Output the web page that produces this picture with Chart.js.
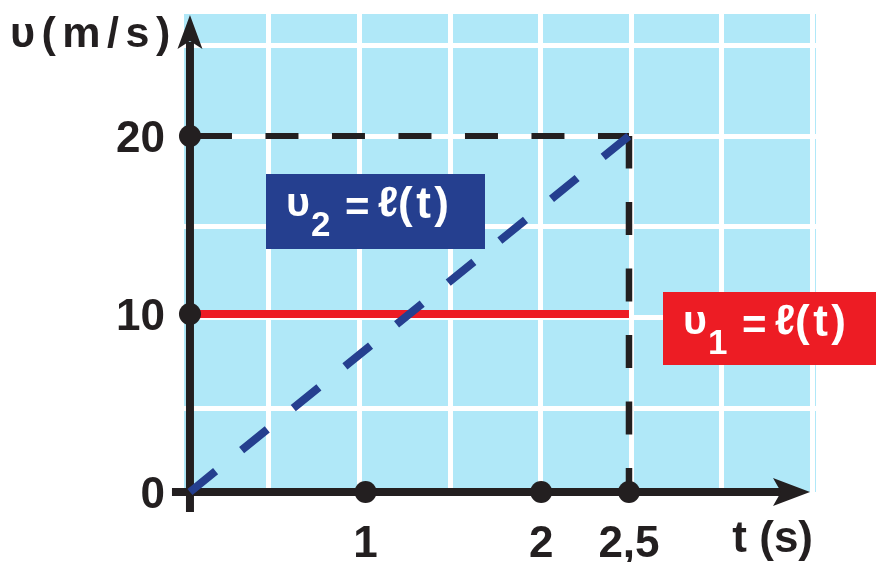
<!DOCTYPE html>
<html><head><meta charset="utf-8">
<script src="https://cdn.jsdelivr.net/npm/chart.js@4/dist/chart.umd.min.js"></script>
<style>html,body{margin:0;padding:0;background:#fff;}canvas{display:block}</style>
</head><body>
<canvas id="c" width="876" height="562"></canvas>
<script>
// ---- data ----
const xTicks = [1, 2, 2.5];
const yTicks = [0, 10, 20];
const v1Times = [0, 2.5];
const v1Values = [10, 10];
const v2Times = [0, 2.5];
const v2Values = [0, 20];
const guideHTimes = [0, 2.5];
const guideHValues = [20, 20];
const guideVTimes = [2.5, 2.5];
const guideVValues = [0, 20];
const markTimes = [0, 0, 1, 2, 2.5];
const markValues = [20, 10, 0, 0, 0];
const gridCols = [0, 1, 2, 3, 4, 5, 6];
const gridRows = [0, 1, 2, 3, 4];
const xTitle = 't (s)';
const yTitle = 'υ(m/s)';
const label1 = ['υ', '1', '=', 'ℓ', '(t)'];
const label2 = ['υ', '2', '=', 'ℓ', '(t)'];

const INK = '#231f20';
const RED = '#ed1c24';
const BLUE = '#253f8f';
const BG = '#b0e8f8';
const FAM = "'Liberation Sans', Arial, sans-serif";
const pts = (xs, ys) => xs.map((x, i) => ({x: x, y: ys[i]}));
const fmt = v => String(v).replace('.', ',');

function spaced(ctx, text, x, y, gap) {
  let cx = x;
  for (const ch of text) {
    ctx.fillText(ch, cx, y);
    cx += ctx.measureText(ch).width + gap;
  }
}

function drawLabel(ctx, left, top, right, bottom, color, parts) {
  ctx.save();
  ctx.fillStyle = color;
  ctx.fillRect(left, top, right - left, bottom - top);
  ctx.fillStyle = '#fff';
  ctx.textAlign = 'left';
  ctx.textBaseline = 'alphabetic';
  const base = top + 42;
  ctx.font = 'bold 41px ' + FAM;
  ctx.fillText(parts[0], left + 20, base);
  ctx.font = 'bold 35px ' + FAM;
  ctx.fillText(parts[1], left + 45, base + 20);
  ctx.font = 'bold 42px ' + FAM;
  ctx.fillText(parts[2], left + 79, base + 5);
  ctx.fillText(parts[3], left + 112, base);
  ctx.font = 'bold 44px ' + FAM;
  spaced(ctx, parts[4], left + 132, base + 2, 3.5);
  ctx.restore();
}

const deco = {
  id: 'deco',
  beforeDraw(chart) {
    const a = chart.chartArea, ctx = chart.ctx;
    ctx.save();
    ctx.fillStyle = BG;
    ctx.fillRect(a.left, a.top, a.right - a.left, a.bottom - a.top);
    ctx.restore();
  },
  beforeDatasetsDraw(chart) {
    const a = chart.chartArea, ctx = chart.ctx;
    const xs = chart.scales.x, ys = chart.scales.y;
    const x0 = xs.getPixelForValue(0), y0 = ys.getPixelForValue(0);
    ctx.save();
    ctx.strokeStyle = INK; ctx.fillStyle = INK; ctx.lineWidth = 8; ctx.lineCap = 'butt';
    // vertical axis
    ctx.beginPath(); ctx.moveTo(x0, y0 + 20); ctx.lineTo(x0, a.top + 28); ctx.stroke();
    // horizontal axis
    ctx.beginPath(); ctx.moveTo(x0 - 18, y0); ctx.lineTo(a.right - 32, y0); ctx.stroke();
    // arrow heads
    const ty = a.top + 1;
    ctx.beginPath();
    ctx.moveTo(x0, ty); ctx.lineTo(x0 + 12.5, ty + 34); ctx.lineTo(x0, ty + 26); ctx.lineTo(x0 - 12.5, ty + 34);
    ctx.closePath(); ctx.fill();
    const tx = a.right - 6;
    ctx.beginPath();
    ctx.moveTo(tx, y0); ctx.lineTo(tx - 37, y0 - 14); ctx.lineTo(tx - 29, y0); ctx.lineTo(tx - 37, y0 + 14);
    ctx.closePath(); ctx.fill();
    // tick labels
    ctx.font = 'bold 44px ' + FAM;
    ctx.textBaseline = 'alphabetic';
    ctx.textAlign = 'right';
    yTicks.forEach(v => ctx.fillText(fmt(v), x0 - 25, ys.getPixelForValue(v) + 16));
    ctx.textAlign = 'center';
    xTicks.forEach(v => ctx.fillText(fmt(v), xs.getPixelForValue(v), y0 + 65));
    // axis titles
    ctx.textAlign = 'right';
    ctx.fillText(xTitle, a.right - 3, y0 + 60);
    ctx.font = 'bold 43px ' + FAM;
    ctx.textAlign = 'left';
    spaced(ctx, yTitle, 10, 47, 6.5);
    ctx.restore();
  },
  afterDatasetsDraw(chart) {
    const ctx = chart.ctx;
    drawLabel(ctx, 266, 174, 485, 249, BLUE, label2);
    drawLabel(ctx, 663, 292, 876, 365, RED, label1);
  }
};

const lineBase = {pointRadius: 0, pointHoverRadius: 0, tension: 0, clip: false, fill: false, borderCapStyle: 'butt'};

new Chart(document.getElementById('c').getContext('2d'), {
  type: 'line',
  data: {
    datasets: [
      Object.assign({}, lineBase, {data: pts(guideHTimes, guideHValues), borderColor: INK, borderWidth: 6, borderDash: [33, 33.5], borderDashOffset: -9, order: 4}),
      Object.assign({}, lineBase, {data: pts(guideVTimes, guideVValues), borderColor: INK, borderWidth: 6.5, borderDash: [33, 33.5], borderDashOffset: 9, order: 4}),
      Object.assign({}, lineBase, {data: pts(v1Times, v1Values), borderColor: RED, borderWidth: 8, order: 3}),
      Object.assign({}, lineBase, {data: pts(v2Times, v2Values), borderColor: BLUE, borderWidth: 8, borderDash: [33, 33.5], order: 2}),
      {type: 'scatter', data: pts(markTimes, markValues), pointRadius: 11, pointHoverRadius: 11,
       pointBackgroundColor: INK, pointBorderWidth: 0, borderColor: INK, showLine: false, clip: false, order: 0}
    ]
  },
  options: {
    responsive: false,
    animation: false,
    events: [],
    layout: {padding: {left: 184, top: 14, right: 60, bottom: 70}},
    plugins: {legend: {display: false}, tooltip: {enabled: false}},
    scales: {
      x: {type: 'linear', min: -0.034, max: 3.565, display: false},
      y: {type: 'linear', min: 0, max: 26.85, display: false},
      gx: {type: 'linear', axis: 'x', position: 'bottom', min: -0.938, max: 6.038,
           ticks: {display: false}, border: {display: false},
           grid: {color: '#ffffff', lineWidth: 5, drawTicks: false},
           afterBuildTicks: s => { s.ticks = gridCols.map(v => ({value: v})); }},
      gy: {type: 'linear', axis: 'y', position: 'left', min: -0.92, max: 4.347,
           ticks: {display: false}, border: {display: false},
           grid: {color: '#ffffff', lineWidth: 5, drawTicks: false},
           afterBuildTicks: s => { s.ticks = gridRows.map(v => ({value: v})); }}
    }
  },
  plugins: [deco]
});
</script>
</body></html>
